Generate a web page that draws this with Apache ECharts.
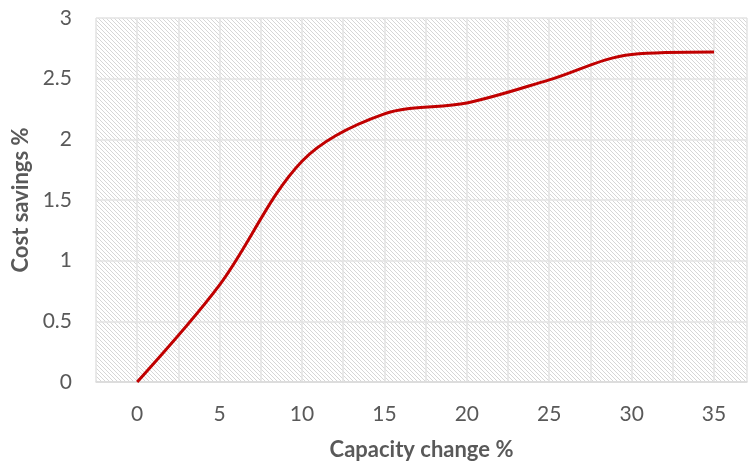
<!DOCTYPE html>
<html>
<head>
<meta charset="utf-8">
<script src="https://cdn.jsdelivr.net/npm/echarts@6/dist/echarts.min.js"></script>
<style>
  html, body { margin: 0; padding: 0; background: #fff; }
  #chart { width: 750px; height: 466px; }
</style>
</head>
<body>
<div id="chart"></div>
<script>
var capacityChange = [0, 5, 10, 15, 20, 25, 30, 35];
var costSavings = [0, 0.8, 1.82, 2.21, 2.3, 2.49, 2.7, 2.72];

// diagonal hatch tile for the plot background
var tile = document.createElement('canvas');
tile.width = 8;
tile.height = 8;
var ctx = tile.getContext('2d');
ctx.fillStyle = '#ffffff';
ctx.fillRect(0, 0, 8, 8);
ctx.fillStyle = '#d6d6d6';
for (var y = 0; y < 8; y++) {
    for (var x = 0; x < 8; x++) {
        if (((x - y) % 4 + 4) % 4 === 0) ctx.fillRect(x, y, 1, 1);
    }
}

var myChart = echarts.init(document.getElementById('chart'));
var textColor = '#595959';
var option = {
    animation: false,
    grid: {
        left: 96, right: 0, top: 18, bottom: 82,
        show: true,
        borderWidth: 0,
        backgroundColor: { image: tile, repeat: 'repeat' }
    },
    xAxis: {
        type: 'value',
        min: -2.5,
        max: 37,
        interval: 2.5,
        name: 'Capacity change %',
        nameLocation: 'middle',
        nameGap: 57,
        nameTextStyle: { fontFamily: 'Lato', fontWeight: 'bold', fontSize: 22, color: textColor },
        axisLine: { show: true, lineStyle: { color: '#d9d9d9', width: 1.5 } },
        axisTick: { show: false },
        axisLabel: {
            margin: 22,
            fontFamily: 'Lato', fontSize: 21, color: textColor,
            formatter: function (v) {
                return (v >= 0 && v <= 35 && v % 5 === 0) ? String(v) : '';
            }
        },
        splitLine: { show: true, lineStyle: { color: '#e3e3e3', width: 1.5 } }
    },
    yAxis: {
        type: 'value',
        min: 0,
        max: 3,
        interval: 0.5,
        name: 'Cost savings %',
        nameLocation: 'middle',
        nameGap: 64,
        nameTextStyle: { fontFamily: 'Lato', fontWeight: 'bold', fontSize: 22, color: textColor },
        axisLine: { show: false },
        axisTick: { show: false },
        axisLabel: { margin: 24, fontFamily: 'Lato', fontSize: 21, color: textColor },
        splitLine: { show: true, lineStyle: { color: '#e3e3e3', width: 1.5 } }
    },
    series: [
        {
            type: 'line',
            smooth: 0.33,
            symbol: 'none',
            lineStyle: { color: '#c00000', width: 3 },
            data: capacityChange.map(function (c, i) { return [c, costSavings[i]]; })
        }
    ]
};
myChart.setOption(option);
</script>
</body>
</html>
